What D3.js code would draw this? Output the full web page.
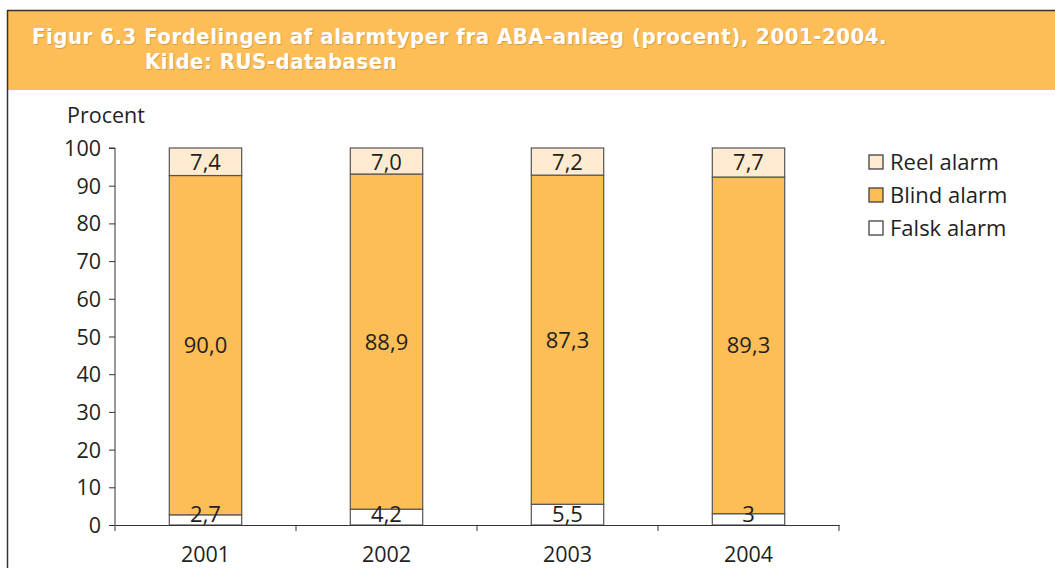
<!DOCTYPE html>
<html><head><meta charset="utf-8">
<script src="https://cdn.jsdelivr.net/npm/d3@7"></script>
<style>
body{margin:0;background:#fff;}
svg{display:block;}
text{font-family:"Open Sans","Noto Sans",sans-serif;fill:#231f20;}
.ttl{font-family:"DejaVu Sans Condensed","DejaVu Sans",sans-serif;font-stretch:condensed;font-weight:bold;font-size:22px;letter-spacing:0.5px;fill:#fff;}
</style></head>
<body><svg id="c" width="1055" height="568"></svg>
<script>
const years = ["2001","2002","2003","2004"];
const falsk = [2.7, 4.2, 5.5, 3];
const blind = [90.0, 88.9, 87.3, 89.3];
const reel  = [7.4, 7.0, 7.2, 7.7];
const falskLabels = ["2,7","4,2","5,5","3"];
const blindLabels = ["90,0","88,9","87,3","89,3"];
const reelLabels  = ["7,4","7,0","7,2","7,7"];
const yTicks = [0,10,20,30,40,50,60,70,80,90,100];
const seriesNames = ["Reel alarm","Blind alarm","Falsk alarm"];
const colors = {"Falsk alarm":"#ffffff","Blind alarm":"#fdbd57","Reel alarm":"#ffebcf"};

const svg = d3.select("#c");
// frame
svg.append("rect").attr("x",7).attr("y",10).attr("width",1060).attr("height",80).attr("fill","#fdbd57");
svg.append("line").attr("x1",7).attr("x2",1055).attr("y1",10.5).attr("y2",10.5).attr("stroke","#333").attr("stroke-width",1.5);
svg.append("line").attr("x1",7.5).attr("x2",7.5).attr("y1",10).attr("y2",568).attr("stroke","#333").attr("stroke-width",1.5);
const titleLines = [["Figur 6.3 Fordelingen af alarmtyper fra ABA-anlæg (procent), 2001-2004.",32,44],["Kilde: RUS-databasen",145,69]];
titleLines.forEach(([s,tx,ty])=>{
  svg.append("text").attr("class","ttl").attr("x",tx+0.8).attr("y",ty+0.8).style("fill","#b08040").style("opacity",0.5).text(s);
  svg.append("text").attr("class","ttl").attr("x",tx).attr("y",ty).text(s);
});

const x0 = 115, x1 = 839, yBase = 525, yTop = 148;
const x = d3.scaleBand().domain(years).range([x0,x1]).padding(0);
const y = d3.scaleLinear().domain([0,100]).range([yBase,yTop]);
const barW = x.bandwidth()*0.4;

const data = years.map((yr,i)=>({year:yr,"Falsk alarm":falsk[i],"Blind alarm":blind[i],"Reel alarm":reel[i]}));
const stack = d3.stack().keys(["Falsk alarm","Blind alarm","Reel alarm"]);
const layers = stack(data);
const labelsByKey = {"Falsk alarm":falskLabels,"Blind alarm":blindLabels,"Reel alarm":reelLabels};

layers.forEach(layer=>{
  svg.append("g").selectAll("rect").data(layer).join("rect")
    .attr("x",d=>x(d.data.year)+(x.bandwidth()-barW)/2)
    .attr("y",d=>y(Math.min(d[1],100)))
    .attr("width",barW)
    .attr("height",d=>y(d[0])-y(Math.min(d[1],100)))
    .attr("fill",colors[layer.key]).attr("stroke","#555").attr("stroke-width",1.2);
});
// labels
layers.forEach(layer=>{
  svg.append("g").selectAll("text").data(layer).join("text")
    .attr("x",d=>x(d.data.year)+x.bandwidth()/2)
    .attr("y",(d,i)=>{
      if(layer.key==="Falsk alarm") return y(0)-3;
      if(layer.key==="Reel alarm") return y(Math.min(d[1],100))+22;
      return y((d[0]+d[1])/2)+8;
    })
    .attr("text-anchor","middle").style("font-size","22px")
    .text((d,i)=>labelsByKey[layer.key][i]);
});

// y axis
const yAxis = d3.axisLeft(y).tickValues(yTicks).tickSize(6).tickPadding(8);
const gy = svg.append("g").attr("transform",`translate(${x0},0)`).call(yAxis);
gy.select(".domain").attr("stroke","#333").attr("d",`M-6,${yTop}H0V${yBase}`);
gy.selectAll(".tick line").attr("stroke","#333");
gy.selectAll(".tick text").style("font-size","21.5px").style("fill","#231f20").attr("dy","0.35em");
svg.append("text").attr("x",67).attr("y",123).style("font-size","21.5px").text("Procent");

// x axis
const xAxis = d3.axisBottom(x).tickSize(0).tickPadding(17);
const gx = svg.append("g").attr("transform",`translate(0,${yBase})`).call(xAxis);
gx.select(".domain").attr("stroke","#333");
gx.selectAll(".tick text").style("font-size","21.5px").style("fill","#231f20").attr("dy","0.95em");
gx.append("g").selectAll("line").data(years.concat(["end"])).join("line")
  .attr("x1",(d,i)=>i<years.length?x(d):x1).attr("x2",(d,i)=>i<years.length?x(d):x1)
  .attr("y1",0).attr("y2",6).attr("stroke","#333");

// legend
const lg = svg.append("g").attr("transform","translate(869,155)");
seriesNames.forEach((n,i)=>{
  lg.append("rect").attr("x",0).attr("y",i*33).attr("width",14).attr("height",14)
    .attr("fill",colors[n]).attr("stroke","#333").attr("stroke-width",1.2);
  lg.append("text").attr("x",21).attr("y",i*33+15).style("font-size","22px").text(n);
});
</script></body></html>
